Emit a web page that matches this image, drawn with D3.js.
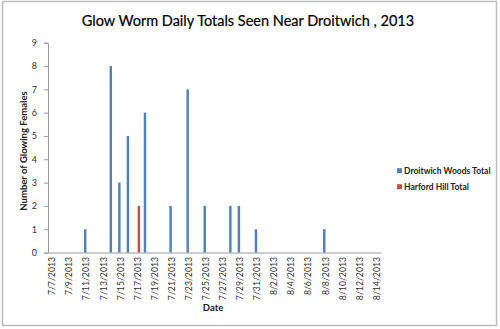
<!DOCTYPE html>
<html>
<head>
<meta charset="utf-8">
<script src="https://cdn.jsdelivr.net/npm/d3@7"></script>
<style>
  html, body { margin: 0; padding: 0; background: #fff; }
  svg { display: block; font-family: Lato, "Open Sans", sans-serif; }
</style>
</head>
<body>
<div id="chart"></div>
<script>
// Every day of the survey period, 7/7/2013 to 8/14/2013
const dates = d3.timeDays(new Date(2013, 6, 7), new Date(2013, 7, 15));
const fmt = d => `${d.getMonth() + 1}/${d.getDate()}/${d.getFullYear()}`;
const categories = dates.map(fmt);

// Glowing females counted per day (days not listed: none recorded)
const droitwichDays   = ["7/11/2013", "7/14/2013", "7/15/2013", "7/16/2013", "7/18/2013", "7/21/2013",
                         "7/23/2013", "7/25/2013", "7/28/2013", "7/29/2013", "7/31/2013", "8/8/2013"];
const droitwichCounts = [1, 8, 3, 5, 6, 2, 7, 2, 2, 2, 1, 1];
const harfordDays     = ["7/17/2013"];
const harfordCounts   = [2];

const seriesNames  = ["Droitwich Woods Total", "Harford Hill Total"];
const seriesColors = ["#4F81BD", "#C0504D"];
const yTicks = [0, 1, 2, 3, 4, 5, 6, 7, 8, 9];

const W = 500, H = 329;
const plot = { left: 48, right: 381, top: 42.7, bottom: 252.5 };

const svg = d3.select("#chart").append("svg").attr("width", W).attr("height", H);

// chart frame
svg.append("rect").attr("x", 2.5).attr("y", 1.5).attr("width", 494).attr("height", 324)
  .attr("fill", "#fff").attr("stroke", "#bdbdbd").attr("stroke-width", 1.5);

// title
svg.append("text").attr("x", 248).attr("y", 26).attr("text-anchor", "middle")
  .attr("font-size", 14.5).attr("fill", "#000").attr("stroke", "#000").attr("stroke-width", 0.2)
  .text("Glow Worm Daily Totals Seen Near Droitwich , 2013");

const x0 = d3.scaleBand().domain(categories).range([plot.left, plot.right])
  .paddingInner(1.5 / 3.5).paddingOuter(0.75 / 3.5);
const x1 = d3.scaleBand().domain(seriesNames).range([0, x0.bandwidth()]);
const y = d3.scaleLinear().domain([0, 9]).range([plot.bottom, plot.top]);

// y axis
const yAxis = svg.append("g").attr("transform", `translate(${plot.left},0)`)
  .call(d3.axisLeft(y).tickValues(yTicks).tickSize(4).tickPadding(7).tickFormat(d3.format("d")));
yAxis.select(".domain").attr("stroke", "#9a9a9a");
yAxis.selectAll(".tick line").attr("stroke", "#9a9a9a");
yAxis.selectAll(".tick text").attr("font-size", 9).attr("fill", "#333").attr("font-family", "Lato, sans-serif");

// x axis, label on every other day
const xAxis = svg.append("g").attr("transform", `translate(0,${plot.bottom})`)
  .call(d3.axisBottom(x0).tickSizeOuter(0).tickSize(0)
    .tickFormat((d, i) => (i % 2 === 0 ? d : "")));
xAxis.select(".domain").attr("stroke", "#9a9a9a");
xAxis.selectAll(".tick text")
  .attr("font-size", 8.7).attr("fill", "#333").attr("font-family", "Lato, sans-serif")
  .attr("text-anchor", "end")
  .attr("transform", "rotate(-90)")
  .attr("x", -4.5).attr("y", 0).attr("dy", "0.35em");

// bars
const series = [
  { name: seriesNames[0], color: seriesColors[0], days: droitwichDays, counts: droitwichCounts },
  { name: seriesNames[1], color: seriesColors[1], days: harfordDays, counts: harfordCounts }
];
series.forEach(s => {
  svg.append("g").selectAll("rect")
    .data(s.days.map((d, i) => ({ day: d, value: s.counts[i] })))
    .join("rect")
    .attr("x", d => x0(d.day) + x1(s.name))
    .attr("width", x1.bandwidth())
    .attr("y", d => y(d.value))
    .attr("height", d => y(0) - y(d.value))
    .attr("fill", s.color);
});

// axis titles
svg.append("text").attr("transform", "translate(27,151) rotate(-90)")
  .attr("text-anchor", "middle").attr("font-size", 9.5).attr("font-weight", "bold").attr("fill", "#222")
  .text("Number of Glowing Females");
svg.append("text").attr("x", 213).attr("y", 311).attr("text-anchor", "middle")
  .attr("font-size", 9.5).attr("font-weight", "bold").attr("fill", "#222")
  .text("Date");

// legend
const legend = svg.append("g").selectAll("g").data(series).join("g")
  .attr("transform", (d, i) => `translate(397,${170.7 + i * 16})`);
legend.append("rect").attr("x", 0).attr("y", -2.5).attr("width", 5).attr("height", 5).attr("fill", d => d.color);
legend.append("text").attr("x", 7).attr("y", 0).attr("dy", "0.35em")
  .attr("font-size", 8.5).attr("font-weight", "bold").attr("fill", "#222")
  .text(d => d.name);
</script>
</body>
</html>
